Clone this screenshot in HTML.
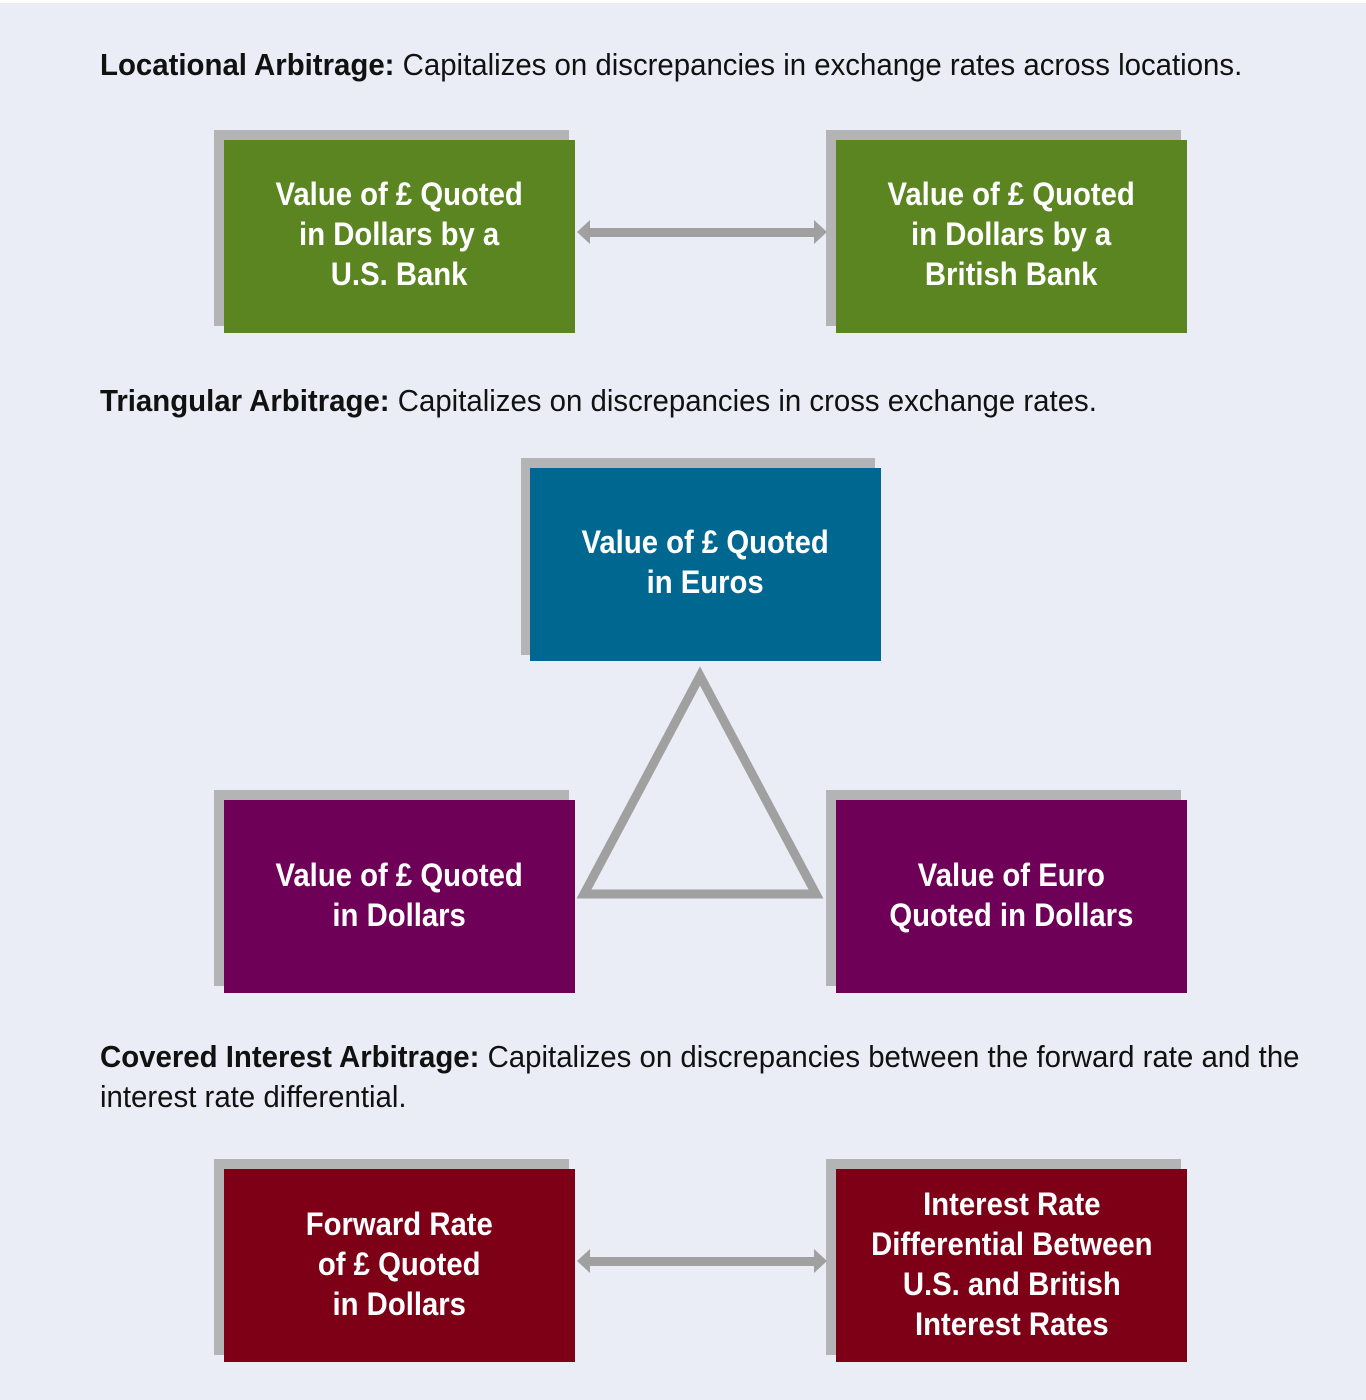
<!DOCTYPE html>
<html><head><meta charset="utf-8"><style>
*{margin:0;padding:0;box-sizing:border-box}
body{width:1366px;height:1400px;background:#fff;position:relative;overflow:hidden;font-family:"Liberation Sans",sans-serif}
.bg{position:absolute;left:0;top:3px;width:1366px;height:1397px;background:#eaedf5}
.h{position:absolute;left:100px;font-size:31px;color:#111;white-space:nowrap;line-height:40px;transform:scaleX(0.948);transform-origin:0 0}
.h b{font-weight:bold}
.sh{position:absolute;background:#b4b4b6}
.bx{position:absolute;display:flex;align-items:center;justify-content:center;text-align:center;color:#fff;font-weight:bold;font-size:32px;line-height:40px}
.bx span{display:block;transform:scaleX(0.915);white-space:nowrap}
.g{background:#5a8520}.t{background:#006890}.p{background:#6e0058}.r{background:#7d0016}
</style></head><body>
<div class="bg"></div>
<div class="h" style="top:45px"><b>Locational Arbitrage:</b> Capitalizes on discrepancies in exchange rates across locations.</div>
<div class="h" style="top:381px"><b>Triangular Arbitrage:</b> Capitalizes on discrepancies in cross exchange rates.</div>
<div class="h" style="top:1037px"><b>Covered Interest Arbitrage:</b> Capitalizes on discrepancies between the forward rate and the<br>interest rate differential.</div>

<div class="sh" style="left:214px;top:130px;width:355px;height:196px"></div>
<div class="bx g" style="left:224px;top:140px;width:351px;height:193px;padding-bottom:6px"><span>Value of £ Quoted<br>in Dollars by a<br>U.S. Bank</span></div>
<div class="sh" style="left:826px;top:130px;width:355px;height:196px"></div>
<div class="bx g" style="left:836px;top:140px;width:351px;height:193px;padding-bottom:6px"><span>Value of £ Quoted<br>in Dollars by a<br>British Bank</span></div>

<div class="sh" style="left:521px;top:458px;width:354px;height:197px"></div>
<div class="bx t" style="left:530px;top:468px;width:351px;height:193px;padding-bottom:6px"><span>Value of £ Quoted<br>in Euros</span></div>

<div class="sh" style="left:214px;top:790px;width:355px;height:196px"></div>
<div class="bx p" style="left:224px;top:800px;width:351px;height:193px;padding-bottom:4px"><span>Value of £ Quoted<br>in Dollars</span></div>
<div class="sh" style="left:826px;top:790px;width:355px;height:196px"></div>
<div class="bx p" style="left:836px;top:800px;width:351px;height:193px;padding-bottom:4px"><span>Value of Euro<br>Quoted in Dollars</span></div>

<div class="sh" style="left:214px;top:1159px;width:355px;height:196px"></div>
<div class="bx r" style="left:224px;top:1169px;width:351px;height:193px;padding-bottom:4px"><span>Forward Rate<br>of £ Quoted<br>in Dollars</span></div>
<div class="sh" style="left:826px;top:1159px;width:355px;height:196px"></div>
<div class="bx r" style="left:836px;top:1169px;width:351px;height:193px;padding-bottom:4px"><span>Interest Rate<br>Differential Between<br>U.S. and British<br>Interest Rates</span></div>

<svg style="position:absolute;left:0;top:0" width="1366" height="1400">
<g fill="#a0a0a0">
<rect x="588" y="228" width="228" height="9"/>
<polygon points="577,232 590,220 590,244"/>
<polygon points="827,232 814,220 814,244"/>
<rect x="588" y="1257" width="228" height="9"/>
<polygon points="577,1261 590,1249 590,1273"/>
<polygon points="827,1261 814,1249 814,1273"/>
</g>
<polygon points="700,676 584,894 816,894" fill="none" stroke="#a0a0a0" stroke-width="9"/>
</svg>
</body></html>
